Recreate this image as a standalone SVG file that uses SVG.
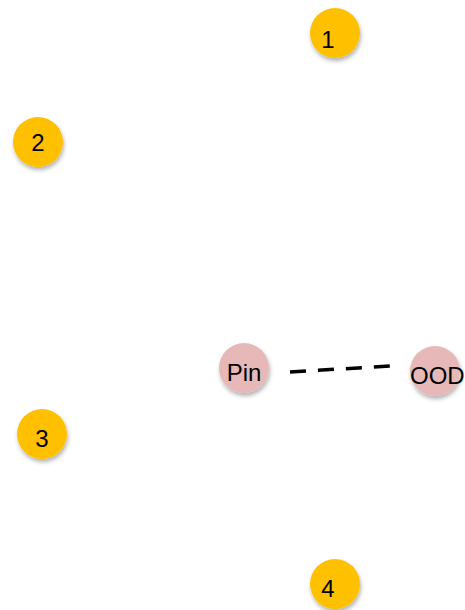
<svg xmlns="http://www.w3.org/2000/svg" width="465" height="610" viewBox="0 0 465 610">
<defs>
<filter id="sh" x="-30%" y="-30%" width="160%" height="170%">
<feDropShadow dx="1" dy="3" stdDeviation="2" flood-color="#000" flood-opacity="0.3"/>
</filter>
<style>
.y{fill:#FFC000;filter:url(#sh)}
.p{fill:#E6B9B8;filter:url(#sh)}
text{font-family:"Liberation Sans",Arial,sans-serif;font-size:24px;fill:#000;text-anchor:middle;dominant-baseline:central}
</style>
</defs>
<rect width="465" height="610" fill="#fff"/>
<g id="connectors">
<path d="M290 372 L390 366" stroke="#000" stroke-width="3.5" stroke-dasharray="16 12" fill="none"/>
</g>
<g id="n1"><circle class="y" cx="335" cy="33" r="25"/><text x="328" y="39">1</text></g>
<g id="n2"><circle class="y" cx="38" cy="142" r="25"/><text x="38" y="142">2</text></g>
<g id="n3"><circle class="y" cx="42" cy="434" r="25"/><text x="42" y="438">3</text></g>
<g id="n4"><circle class="y" cx="335" cy="584" r="25"/><text x="328" y="588">4</text></g>
<g id="pin"><circle class="p" cx="244" cy="368" r="25"/><text x="244" y="372">Pin</text></g>
<g id="ood"><circle class="p" cx="435" cy="371" r="25"/><text x="410" y="375" style="text-anchor:start">OOD</text></g>
</svg>
